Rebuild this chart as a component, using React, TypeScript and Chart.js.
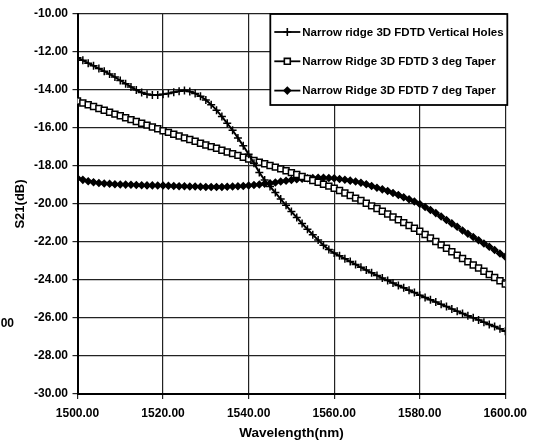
import React, { useEffect, useRef } from "react";
import { Chart, registerables } from "chart.js";

Chart.register(...registerables);

const wavelengths = [
  1500, 1501.25, 1502.5, 1503.75, 1505, 1506.25, 1507.5, 1508.75, 1510, 1511.25,
  1512.5, 1513.75, 1515, 1516.25, 1517.5, 1518.75, 1520, 1521.25, 1522.5, 1523.75,
  1525, 1526.25, 1527.5, 1528.75, 1530, 1531.25, 1532.5, 1533.75, 1535, 1536.25,
  1537.5, 1538.75, 1540, 1541.25, 1542.5, 1543.75, 1545, 1546.25, 1547.5, 1548.75,
  1550, 1551.25, 1552.5, 1553.75, 1555, 1556.25, 1557.5, 1558.75, 1560, 1561.25,
  1562.5, 1563.75, 1565, 1566.25, 1567.5, 1568.75, 1570, 1571.25, 1572.5, 1573.75,
  1575, 1576.25, 1577.5, 1578.75, 1580, 1581.25, 1582.5, 1583.75, 1585, 1586.25,
  1587.5, 1588.75, 1590, 1591.25, 1592.5, 1593.75, 1595, 1596.25, 1597.5, 1598.75,
  1600,
];

const verticalHoles = [
  -12.3, -12.44, -12.59, -12.73, -12.87, -13.01, -13.16, -13.32, -13.5, -13.67,
  -13.84, -14.0, -14.13, -14.22, -14.26, -14.26, -14.23, -14.18, -14.12, -14.06,
  -14.03, -14.08, -14.18, -14.33, -14.52, -14.77, -15.06, -15.4, -15.75, -16.12,
  -16.52, -16.94, -17.38, -17.86, -18.34, -18.74, -19.08, -19.4, -19.74, -20.07,
  -20.4, -20.71, -21.03, -21.33, -21.62, -21.9, -22.17, -22.4, -22.58, -22.73,
  -22.88, -23.03, -23.18, -23.33, -23.48, -23.62, -23.76, -23.9, -24.03, -24.16,
  -24.29, -24.41, -24.54, -24.66, -24.8, -24.92, -25.04, -25.16, -25.28, -25.4,
  -25.52, -25.64, -25.76, -25.88, -25.99, -26.1, -26.22, -26.34, -26.45, -26.57,
  -26.7,
];

const taper3deg = [
  -14.58, -14.68, -14.78, -14.87, -14.97, -15.07, -15.17, -15.27, -15.36, -15.46,
  -15.56, -15.66, -15.75, -15.85, -15.95, -16.04, -16.14, -16.23, -16.33, -16.42,
  -16.52, -16.61, -16.7, -16.8, -16.89, -16.98, -17.07, -17.17, -17.26, -17.35,
  -17.44, -17.54, -17.63, -17.71, -17.8, -17.88, -17.97, -18.06, -18.15, -18.25,
  -18.35, -18.45, -18.55, -18.65, -18.76, -18.86, -18.96, -19.06, -19.17, -19.29,
  -19.42, -19.55, -19.69, -19.82, -19.96, -20.1, -20.24, -20.38, -20.53, -20.68,
  -20.83, -20.98, -21.13, -21.28, -21.43, -21.61, -21.79, -21.97, -22.15, -22.33,
  -22.51, -22.69, -22.87, -23.04, -23.21, -23.37, -23.54, -23.71, -23.87, -24.04,
  -24.21,
];

const taper7deg = [
  -18.65, -18.73, -18.8, -18.85, -18.89, -18.92, -18.94, -18.96, -18.97, -18.98,
  -18.99, -19.0, -19.01, -19.02, -19.02, -19.03, -19.03, -19.04, -19.05, -19.06,
  -19.07, -19.08, -19.08, -19.09, -19.1, -19.1, -19.1, -19.1, -19.09, -19.08,
  -19.07, -19.05, -19.03, -19.0, -18.97, -18.94, -18.91, -18.87, -18.82, -18.78,
  -18.74, -18.7, -18.67, -18.65, -18.63, -18.62, -18.62, -18.63, -18.65, -18.68,
  -18.72, -18.77, -18.82, -18.88, -18.96, -19.05, -19.14, -19.23, -19.32, -19.42,
  -19.53, -19.64, -19.75, -19.87, -20.0, -20.16, -20.32, -20.48, -20.66, -20.84,
  -21.02, -21.2, -21.4, -21.57, -21.74, -21.91, -22.08, -22.25, -22.42, -22.6,
  -22.77,
];

const seriesLabels = [
  "Narrow ridge 3D FDTD Vertical Holes",
  "Narrow Ridge 3D FDTD 3 deg Taper",
  "Narrow Ridge 3D FDTD 7 deg Taper",
];

const xTitle = "Wavelength(nm)";
const yTitle = "S21(dB)";
const strayText = "00";

const FONT = '"Liberation Sans", Arial, sans-serif';

function drawMarker(
  ctx: CanvasRenderingContext2D,
  style: string,
  x: number,
  y: number,
  r: number,
  fill: string
) {
  ctx.save();
  ctx.strokeStyle = "#000";
  ctx.fillStyle = fill;
  ctx.lineWidth = 1.6;
  ctx.beginPath();
  if (style === "cross") {
    ctx.moveTo(x - r, y);
    ctx.lineTo(x + r, y);
    ctx.moveTo(x, y - r);
    ctx.lineTo(x, y + r);
    ctx.stroke();
  } else if (style === "rect") {
    const s = r * Math.SQRT1_2;
    ctx.rect(x - s, y - s, 2 * s, 2 * s);
    ctx.fill();
    ctx.stroke();
  } else {
    ctx.moveTo(x - r, y);
    ctx.lineTo(x, y - r);
    ctx.lineTo(x + r, y);
    ctx.lineTo(x, y + r);
    ctx.closePath();
    ctx.fill();
    ctx.stroke();
  }
  ctx.restore();
}

const boxLegend = {
  id: "boxLegend",
  afterDraw(chart: any) {
    const ctx: CanvasRenderingContext2D = chart.ctx;
    const a = chart.chartArea;
    const w = 237;
    const h = 91;
    const right = a.right + 2;
    const left = right - w;
    const top = a.top;
    ctx.save();
    ctx.fillStyle = "#fff";
    ctx.fillRect(left, top, w, h);
    ctx.strokeStyle = "#000";
    ctx.lineWidth = 1.8;
    ctx.strokeRect(left, top, w, h);
    chart.data.datasets.forEach((ds: any, i: number) => {
      const y = top + 18 + i * 29.3;
      ctx.beginPath();
      ctx.moveTo(left + 4, y);
      ctx.lineTo(left + 30, y);
      ctx.strokeStyle = "#000";
      ctx.lineWidth = 1.8;
      ctx.stroke();
      drawMarker(ctx, ds.pointStyle, left + 17, y, ds.pointRadius, ds.pointBackgroundColor);
      ctx.fillStyle = "#000";
      ctx.font = `bold 11.5px ${FONT}`;
      ctx.textAlign = "left";
      ctx.textBaseline = "middle";
      ctx.fillText(ds.label, left + 32, y + 0.5);
    });
    // stray fragment at the left edge of the scan
    ctx.font = `bold 12px ${FONT}`;
    ctx.textAlign = "right";
    ctx.textBaseline = "middle";
    ctx.fillText(strayText, 14, 324);
    ctx.restore();
  },
};

export default function App() {
  const canvasRef = useRef<HTMLCanvasElement | null>(null);

  useEffect(() => {
    if (!canvasRef.current) return;
    const mk = (
      label: string,
      values: number[],
      style: string,
      radius: number,
      fill: string
    ) => ({
      label,
      data: wavelengths.map((x, i) => ({ x, y: values[i] })),
      borderColor: "#000",
      borderWidth: 2,
      pointStyle: style,
      pointRadius: radius,
      pointBorderWidth: 1.5,
      pointBorderColor: "#000",
      pointBackgroundColor: fill,
      tension: 0,
      fill: false,
    });

    const chart = new Chart(canvasRef.current, {
      type: "line",
      data: {
        datasets: [
          mk(seriesLabels[0], verticalHoles, "cross", 4, "#000"),
          mk(seriesLabels[1], taper3deg, "rect", 4.2, "#fff"),
          mk(seriesLabels[2], taper7deg, "rectRot", 3.2, "#000"),
        ] as any,
      },
      options: {
        animation: false,
        responsive: true,
        maintainAspectRatio: false,
        layout: { padding: { left: 0, right: 28, top: 14, bottom: 0 } },
        plugins: {
          legend: { display: false },
          tooltip: { enabled: false },
        },
        scales: {
          x: {
            type: "linear",
            min: 1500,
            max: 1600,
            afterFit: (s: any) => {
              s.height = 48;
            },
            ticks: {
              stepSize: 20,
              padding: 7,
              maxRotation: 0,
              color: "#000",
              font: { family: FONT, size: 12, weight: "bold" },
              callback: (v: any) => Number(v).toFixed(2),
            },
            grid: { color: "#222", lineWidth: 1.2, tickLength: 5 },
            border: { color: "#000", width: 2 },
            title: {
              display: true,
              text: xTitle,
              color: "#000",
              font: { family: FONT, size: 13.5, weight: "bold" },
              padding: { top: 0, bottom: 1 },
            },
          },
          y: {
            type: "linear",
            min: -30,
            max: -10,
            afterFit: (s: any) => {
              s.width = 77.5;
            },
            ticks: {
              stepSize: 2,
              padding: 4.5,
              color: "#000",
              font: { family: FONT, size: 12, weight: "bold" },
              callback: (v: any) => Number(v).toFixed(2),
            },
            grid: { color: "#222", lineWidth: 1.2, tickLength: 5 },
            border: { color: "#000", width: 2 },
            title: {
              display: true,
              text: yTitle,
              color: "#000",
              font: { family: FONT, size: 13, weight: "bold" },
              padding: { top: 12.5, bottom: 0 },
            },
          },
        },
      },
      plugins: [boxLegend],
    });
    return () => chart.destroy();
  }, []);

  return (
    <div
      style={{
        position: "fixed",
        left: 0,
        top: 0,
        width: 534,
        height: 442,
        background: "#fff",
      }}
    >
      <canvas ref={canvasRef} />
    </div>
  );
}
